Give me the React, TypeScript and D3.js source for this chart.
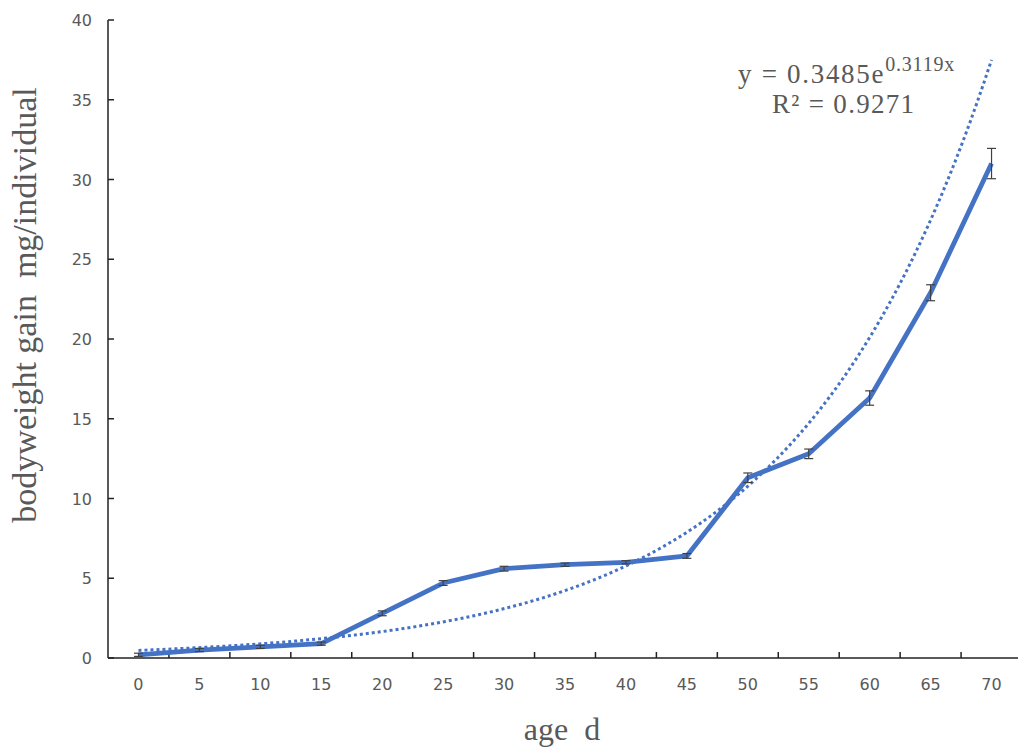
import React from "react";
import * as d3 from "d3";

const ages = ["0", "5", "10", "15", "20", "25", "30", "35", "40", "45", "50", "55", "60", "65", "70"];
const gain = [0.2, 0.5, 0.7, 0.9, 2.8, 4.7, 5.6, 5.85, 6.0, 6.4, 11.3, 12.8, 16.3, 22.9, 31.0];
const errors = [0.1, 0.1, 0.1, 0.1, 0.15, 0.15, 0.15, 0.1, 0.1, 0.15, 0.3, 0.3, 0.45, 0.5, 0.95];
const yTicks = [0, 5, 10, 15, 20, 25, 30, 35, 40];
const trendA = 0.3485;
const trendB = 0.3119;
const eqText = "y = 0.3485e";
const eqExp = "0.3119x";
const r2Text = "R² = 0.9271";

const W = 1018;
const H = 755;

export default function App() {
  const x = d3.scaleBand<string>().domain(ages).range([108, 1022]).padding(0);
  const y = d3.scaleLinear().domain([0, 40]).range([658, 20]);
  const cx = (a: string) => (x(a) as number) + x.bandwidth() / 2;

  const line = d3
    .line<number>()
    .x((_, i) => cx(ages[i]))
    .y((d) => y(d));

  const trendPts: [number, number][] = [];
  const n = 120;
  for (let k = 0; k <= n; k++) {
    const idx = 1 + (14 * k) / n;
    const xp = cx(ages[0]) + (idx - 1) * x.bandwidth();
    trendPts.push([xp, y(trendA * Math.exp(trendB * idx))]);
  }
  const trendPath = d3.line()(trendPts) as string;

  const grey = "#595959";
  const blue = "#4472C4";
  const serif = "'Liberation Serif', 'Times New Roman', serif";

  return (
    <svg width={W} height={H} style={{ position: "absolute", left: 0, top: 0, background: "#fff" }}>
      <rect x={0} y={0} width={W} height={H} fill="#fff" />
      {/* axes */}
      <line x1={108} x2={108} y1={20} y2={658} stroke="#222" strokeWidth={1.5} />
      <line x1={108} x2={1022} y1={658} y2={658} stroke="#222" strokeWidth={1.5} />
      {yTicks.map((t) => (
        <g key={t}>
          <line x1={108} x2={114} y1={y(t)} y2={y(t)} stroke="#222" strokeWidth={1.5} />
          <text x={92} y={y(t) + 6} textAnchor="end" fontFamily="'DejaVu Sans', sans-serif" fontSize={16} fill={grey}>
            {t}
          </text>
        </g>
      ))}
      {ages.map((a, i) => (
        <g key={a}>
          {i > 0 && (
            <line x1={x(a) as number} x2={x(a) as number} y1={658} y2={652} stroke="#222" strokeWidth={1.5} />
          )}
          <text x={cx(a)} y={690} textAnchor="middle" fontFamily="'DejaVu Sans', sans-serif" fontSize={16} fill={grey}>
            {a}
          </text>
        </g>
      ))}
      <line x1={1022} x2={1022} y1={658} y2={652} stroke="#222" strokeWidth={1.5} />

      {/* trendline */}
      <path d={trendPath} fill="none" stroke={blue} strokeWidth={3} strokeDasharray="3 3" />

      {/* main series */}
      <path d={line(gain) as string} fill="none" stroke={blue} strokeWidth={4.8} strokeLinejoin="round" />

      {/* error bars */}
      {gain.map((v, i) => {
        const px = cx(ages[i]);
        const e = errors[i];
        return (
          <g key={i} stroke="#404040" strokeWidth={1.2}>
            <line x1={px} x2={px} y1={y(v + e)} y2={y(v - e)} />
            <line x1={px - 4.5} x2={px + 4.5} y1={y(v + e)} y2={y(v + e)} />
            <line x1={px - 4.5} x2={px + 4.5} y1={y(v - e)} y2={y(v - e)} />
          </g>
        );
      })}

      {/* equation */}
      <text x={738} y={83} fontFamily={serif} fontSize={27} fill={grey} letterSpacing={1.7}>
        {eqText}
        <tspan dy={-12} fontSize={20} letterSpacing={0.8}>
          {eqExp}
        </tspan>
      </text>
      <text x={772} y={113} fontFamily={serif} fontSize={27} fill={grey} letterSpacing={1.3}>
        {r2Text}
      </text>

      {/* axis titles */}
      <text
        x={562}
        y={740}
        textAnchor="middle"
        fontFamily={serif}
        fontSize={32}
        fill={grey}
        style={{ whiteSpace: "pre" }}
      >
        {"age  d"}
      </text>
      <text
        transform="translate(36,305) rotate(-90)"
        textAnchor="middle"
        fontFamily={serif}
        fontSize={34}
        fill={grey}
        style={{ whiteSpace: "pre" }}
      >
        {"bodyweight gain  mg/individual"}
      </text>
    </svg>
  );
}
